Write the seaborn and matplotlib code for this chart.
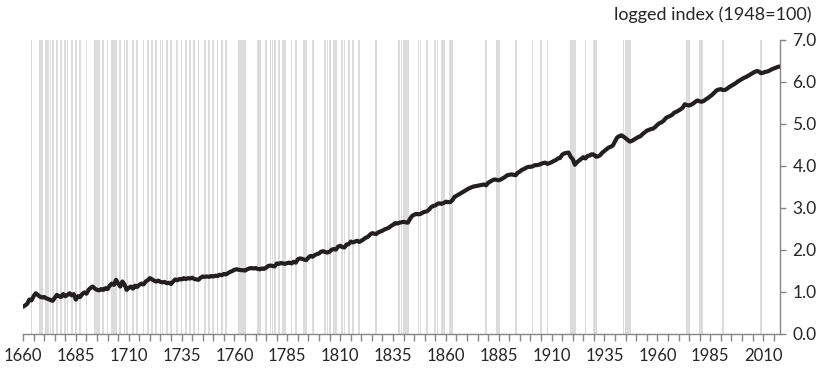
import numpy as np
import pandas as pd
import matplotlib
matplotlib.use("Agg")
import matplotlib.pyplot as plt
from matplotlib.ticker import MultipleLocator, FixedLocator, FormatStrFormatter
import seaborn as sns

# Years covered by the series
years = list(range(1660, 2019))

# Real GDP, logged index (1948=100), one value per year 1660-2018
gdp_log = [
    # 1660-1699
    0.65, 0.68, 0.72, 0.82, 0.80, 0.90, 0.97, 0.93, 0.89, 0.87,
    0.88, 0.85, 0.83, 0.81, 0.79, 0.86, 0.93, 0.90, 0.88, 0.95,
    0.90, 0.93, 0.97, 0.92, 0.95, 0.82, 0.90, 0.88, 0.95, 0.99,
    0.96, 1.05, 1.10, 1.13, 1.08, 1.05, 1.04, 1.07, 1.05, 1.09,
    # 1700-1739
    1.07, 1.15, 1.20, 1.17, 1.29, 1.20, 1.13, 1.25, 1.18, 1.05,
    1.10, 1.13, 1.08, 1.15, 1.12, 1.17, 1.20, 1.18, 1.25, 1.28,
    1.33, 1.30, 1.27, 1.25, 1.27, 1.24, 1.23, 1.24, 1.21, 1.22,
    1.19, 1.25, 1.30, 1.28, 1.31, 1.30, 1.33, 1.31, 1.33, 1.32,
    # 1740-1779
    1.34, 1.31, 1.30, 1.29, 1.34, 1.37, 1.36, 1.37, 1.36, 1.38,
    1.37, 1.39, 1.38, 1.41, 1.40, 1.43, 1.42, 1.45, 1.48, 1.50,
    1.53, 1.54, 1.53, 1.52, 1.52, 1.51, 1.54, 1.56, 1.57, 1.56,
    1.57, 1.55, 1.54, 1.56, 1.55, 1.58, 1.62, 1.63, 1.62, 1.61,
    # 1780-1819
    1.68, 1.67, 1.69, 1.68, 1.67, 1.69, 1.70, 1.68, 1.72, 1.70,
    1.78, 1.80, 1.79, 1.77, 1.76, 1.82, 1.86, 1.84, 1.88, 1.90,
    1.92, 1.96, 1.97, 1.95, 1.94, 1.96, 2.01, 2.02, 2.01, 2.08,
    2.10, 2.07, 2.06, 2.13, 2.14, 2.20, 2.18, 2.20, 2.22, 2.19,
    # 1820-1859
    2.22, 2.25, 2.29, 2.31, 2.36, 2.40, 2.39, 2.38, 2.42, 2.44,
    2.46, 2.49, 2.51, 2.53, 2.57, 2.60, 2.64, 2.63, 2.65, 2.66,
    2.67, 2.66, 2.65, 2.74, 2.81, 2.84, 2.86, 2.85, 2.86, 2.89,
    2.91, 2.92, 2.96, 3.02, 3.05, 3.06, 3.10, 3.11, 3.10, 3.12,
    # 1860-1899
    3.15, 3.14, 3.14, 3.18, 3.26, 3.29, 3.32, 3.35, 3.38, 3.41,
    3.44, 3.47, 3.49, 3.51, 3.52, 3.53, 3.54, 3.55, 3.56, 3.54,
    3.60, 3.63, 3.66, 3.68, 3.67, 3.66, 3.68, 3.71, 3.74, 3.78,
    3.79, 3.80, 3.79, 3.78, 3.84, 3.87, 3.91, 3.93, 3.96, 3.98,
    # 1900-1939
    3.98, 3.99, 4.02, 4.02, 4.03, 4.05, 4.07, 4.08, 4.05, 4.07,
    4.09, 4.12, 4.14, 4.18, 4.19, 4.27, 4.30, 4.31, 4.32, 4.22,
    4.16, 4.03, 4.09, 4.13, 4.17, 4.21, 4.18, 4.24, 4.25, 4.28,
    4.27, 4.22, 4.23, 4.26, 4.32, 4.36, 4.40, 4.44, 4.46, 4.49,
    # 1940-1979
    4.59, 4.68, 4.71, 4.73, 4.70, 4.66, 4.62, 4.58, 4.60, 4.63,
    4.66, 4.69, 4.71, 4.76, 4.80, 4.84, 4.86, 4.88, 4.89, 4.93,
    4.98, 5.02, 5.04, 5.08, 5.14, 5.17, 5.19, 5.22, 5.27, 5.29,
    5.32, 5.35, 5.39, 5.47, 5.45, 5.44, 5.46, 5.49, 5.53, 5.56,
    # 1980-2018
    5.54, 5.53, 5.55, 5.59, 5.62, 5.66, 5.70, 5.75, 5.80, 5.82,
    5.83, 5.81, 5.81, 5.84, 5.88, 5.91, 5.94, 5.97, 6.01, 6.04,
    6.07, 6.10, 6.12, 6.15, 6.18, 6.21, 6.24, 6.26, 6.25, 6.21,
    6.22, 6.24, 6.25, 6.27, 6.30, 6.32, 6.34, 6.36, 6.37,
]

# Years of falling output, shaded in grey
recession_years = [
    1664, 1668, 1669, 1671, 1672, 1673, 1674, 1676, 1678, 1680, 1681, 1683,
    1685, 1687, 1690, 1694, 1695, 1696, 1698, 1700, 1702, 1703, 1704, 1706,
    1708, 1709, 1712, 1714, 1717, 1719, 1721, 1723, 1725, 1726, 1728, 1730,
    1733, 1735, 1737, 1739, 1741, 1743, 1746, 1748, 1750, 1752, 1754, 1756,
    1762, 1763, 1764, 1765, 1771, 1772, 1775, 1777, 1778, 1779, 1781, 1783,
    1784, 1787, 1789, 1793, 1794, 1797, 1803, 1804, 1805, 1807, 1808, 1811,
    1812, 1814, 1816, 1819, 1827, 1838, 1839, 1840, 1841, 1842, 1847, 1848,
    1851, 1855, 1856, 1858, 1859, 1862, 1863, 1879, 1884, 1885, 1893, 1901,
    1905, 1908, 1919, 1920, 1921, 1926, 1930, 1931, 1944, 1945, 1946, 1947,
    1974, 1975, 1980, 1981, 1991, 2009,
]

# Axis settings
y_ticks = [0, 1, 2, 3, 4, 5, 6, 7]
x_label_years = list(range(1660, 2011, 25))
y_title = "logged index (1948=100)"

df = pd.DataFrame({"year": years, "value": gdp_log})

sns.set_style("white")
plt.rcParams["font.family"] = ["Lato", "DejaVu Sans"]

fig = plt.figure(figsize=(8.25, 3.7), dpi=100)
ax = fig.add_axes([23 / 825, 1 - 334 / 370, (780 - 23) / 825, (334 - 40) / 370])

y_top = y_ticks[-1]
ax.bar(recession_years, [y_top] * len(recession_years), width=0.85,
       color="#dcdcdc", linewidth=0, zorder=1)

sns.lineplot(data=df, x="year", y="value", ax=ax, color="#231f20",
             linewidth=3.0, zorder=3, solid_capstyle="round")

ax.set_xlim(years[0], years[-1])
ax.set_ylim(y_ticks[0], y_top)
ax.set_xlabel("")
ax.set_ylabel("")

grey = "#868686"
for side in ("left", "top"):
    ax.spines[side].set_visible(False)
for side in ("right", "bottom"):
    ax.spines[side].set_visible(True)
    ax.spines[side].set_color(grey)
    ax.spines[side].set_linewidth(1.0)

ax.yaxis.tick_right()
ax.yaxis.set_major_locator(FixedLocator(y_ticks))
ax.yaxis.set_major_formatter(FormatStrFormatter("%.1f"))
ax.xaxis.set_major_locator(FixedLocator(x_label_years))
ax.xaxis.set_minor_locator(MultipleLocator(5))

ax.tick_params(axis="y", which="major", right=True, left=False, length=4,
               width=1, color=grey, labelsize=12.5, labelcolor="#262626", pad=5)
ax.tick_params(axis="x", which="both", bottom=True, length=5, width=1,
               color=grey, direction="out")
ax.tick_params(axis="x", which="major", labelsize=12, labelcolor="#262626", pad=5)

fig.text(811 / 825, 1 - 15 / 370, y_title, ha="right", va="center",
         fontsize=13, color="#262626")

fig.savefig("out.png", dpi=100)
